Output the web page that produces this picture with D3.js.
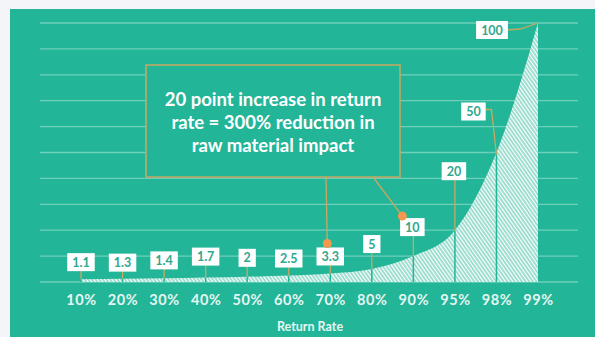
<!DOCTYPE html>
<html>
<head>
<meta charset="utf-8">
<script src="https://cdn.jsdelivr.net/npm/d3@7"></script>
<style>
  body { margin: 0; background: #f3f5f8; }
  svg { display: block; font-family: Lato, "Open Sans", sans-serif; }
</style>
</head>
<body>
<div id="chart"></div>
<script>
// return rate categories and raw material impact index
var rates = ['10%', '20%', '30%', '40%', '50%', '60%', '70%', '80%', '90%', '95%', '98%', '99%'];
var impact = [1.1, 1.3, 1.4, 1.7, 2, 2.5, 3.3, 5, 10, 20, 50, 100];
var valueLabels = ['1.1', '1.3', '1.4', '1.7', '2', '2.5', '3.3', '5', '10', '20', '50', '100'];
var gridTicks = [0, 10, 20, 30, 40, 50, 60, 70, 80, 90, 100];
var calloutLines = ['20 point increase in return', 'rate = 300% reduction in', 'raw material impact'];

var w = 595;
var h = 337;
var teal = '#22b598';
var tan = '#c9a861';
var orange = '#f3984e';

var xScale = d3.scalePoint().domain(rates).range([81, 538]);
var yScale = d3.scaleLinear().domain([0, 100]).range([282, 23]);

var svg = d3.select('#chart')
  .append('svg')
  .attr('width', w)
  .attr('height', h);

// teal panel
svg.append('rect')
  .attr('x', 10).attr('y', 9)
  .attr('width', w - 10).attr('height', h - 9)
  .attr('fill', teal);

// hatch pattern for the area
var pat = svg.append('defs').append('pattern')
  .attr('id', 'hatch')
  .attr('patternUnits', 'userSpaceOnUse')
  .attr('width', 3).attr('height', 3)
  .attr('patternTransform', 'rotate(-35)');
pat.append('rect').attr('width', 3).attr('height', 3).attr('fill', '#9fded0');
pat.append('line')
  .attr('x1', 0).attr('y1', 0).attr('x2', 0).attr('y2', 3)
  .attr('stroke', '#ffffff').attr('stroke-width', 2);

// gridlines
svg.selectAll('.grid')
  .data(gridTicks)
  .enter()
  .append('line')
  .attr('class', 'grid')
  .attr('x1', 40).attr('x2', 578)
  .attr('y1', function(d) { return yScale(d); })
  .attr('y2', function(d) { return yScale(d); })
  .attr('stroke', '#6fd0ba')
  .attr('stroke-width', 1.3);

var points = rates.map(function(r, i) { return [r, impact[i]]; });

// where each value label sits relative to its point
var labelOffset = [[0, -17], [0, -16], [0, -18], [0, -21], [0, -19], [0, -17],
  [0, -17], [0, -25], [-1, -29], [-1, -59], [-23, -41], [-46, 7]];

function labelX(i) { return xScale(rates[i]) + labelOffset[i][0]; }
function labelY(i) { return yScale(impact[i]) + labelOffset[i][1]; }

// area
var area = d3.area()
  .x(function(d) { return xScale(d[0]); })
  .y0(yScale(0))
  .y1(function(d) { return yScale(d[1]); })
  .curve(d3.curveMonotoneX);

svg.append('path')
  .datum(points)
  .attr('d', area)
  .attr('fill', 'url(#hatch)');

// teal stripes through the area at each category
svg.selectAll('.stripe')
  .data(points.slice(0, 11))
  .enter()
  .append('line')
  .attr('class', 'stripe')
  .attr('x1', function(d) { return xScale(d[0]); })
  .attr('x2', function(d) { return xScale(d[0]); })
  .attr('y1', yScale(0))
  .attr('y2', function(d) { return yScale(d[1]); })
  .attr('stroke', teal)
  .attr('stroke-width', 1.5);

// tan leader lines
var leaders = svg.append('g');
points.forEach(function(d, i) {
  var px = xScale(d[0]), py = yScale(d[1]);
  var lx = labelX(i), ly = labelY(i);
  var pts;
  if (Math.abs(labelOffset[i][0]) < 2) {
    pts = [[px, ly], [px, py]];
  } else if (i === 10) {
    pts = [[lx + 11, ly - 2], [px - 5, ly - 2], [px, py + 2]];
  } else {
    pts = [[lx + 15, ly], [px - 18, ly - 1], [px, py]];
  }
  leaders.append('path')
    .attr('d', d3.line()(pts))
    .attr('fill', 'none')
    .attr('stroke', tan)
    .attr('stroke-width', 1.3);
});

// value label boxes
var labels = svg.selectAll('.vlabel')
  .data(valueLabels)
  .enter()
  .append('g')
  .attr('class', 'vlabel')
  .attr('transform', function(d, i) { return 'translate(' + labelX(i) + ',' + labelY(i) + ')'; });

labels.append('text')
  .attr('text-anchor', 'middle')
  .attr('dy', '0.36em')
  .attr('font-size', 12.5)
  .attr('font-weight', 700)
  .attr('fill', '#2fa88e')
  .text(function(d) { return d; });

labels.each(function() {
  var g = d3.select(this);
  var bb = g.select('text').node().getBBox();
  g.insert('rect', 'text')
    .attr('x', bb.x - 5).attr('y', -9)
    .attr('width', bb.width + 10).attr('height', 18)
    .attr('fill', '#ffffff');
});

// callout box
svg.append('rect')
  .attr('x', 146).attr('y', 65)
  .attr('width', 254).attr('height', 112)
  .attr('fill', teal)
  .attr('stroke', tan)
  .attr('stroke-width', 1.5);

svg.selectAll('.callout')
  .data(calloutLines)
  .enter()
  .append('text')
  .attr('class', 'callout')
  .attr('x', 273)
  .attr('y', function(d, i) { return 100 + i * 23; })
  .attr('dy', '0.35em')
  .attr('text-anchor', 'middle')
  .attr('font-size', 18.5)
  .attr('font-weight', 700)
  .attr('fill', '#ffffff')
  .text(function(d) { return d; });

// callout pointers to the 70% and 90% labels
var dot70 = [labelX(6) - 3, labelY(6) - 13];
var dot90 = [labelX(8) - 10, labelY(8) - 11];
svg.append('path')
  .attr('d', d3.line()([[326, 177], dot70]))
  .attr('stroke', tan).attr('stroke-width', 1.3).attr('fill', 'none');
svg.append('path')
  .attr('d', d3.line()([[373, 177], dot90]))
  .attr('stroke', tan).attr('stroke-width', 1.3).attr('fill', 'none');
svg.selectAll('.dot')
  .data([dot70, dot90])
  .enter()
  .append('circle')
  .attr('cx', function(d) { return d[0]; })
  .attr('cy', function(d) { return d[1]; })
  .attr('r', 4.5)
  .attr('fill', orange);

// x axis
var xAxis = svg.append('g')
  .attr('transform', 'translate(0,' + yScale(0) + ')')
  .call(d3.axisBottom(xScale).tickSize(0).tickPadding(13));
xAxis.select('.domain').remove();
xAxis.selectAll('text')
  .attr('font-family', 'Lato, sans-serif')
  .attr('font-size', 14.5)
  .attr('font-weight', 700)
  .attr('letter-spacing', 0.6)
  .attr('fill', '#e6f7f2');

svg.append('text')
  .attr('x', 310).attr('y', 327)
  .attr('dy', '0.35em')
  .attr('text-anchor', 'middle')
  .attr('font-size', 12.5)
  .attr('font-weight', 700)
  .attr('fill', '#e6f7f2')
  .text('Return Rate');
</script>
</body>
</html>
